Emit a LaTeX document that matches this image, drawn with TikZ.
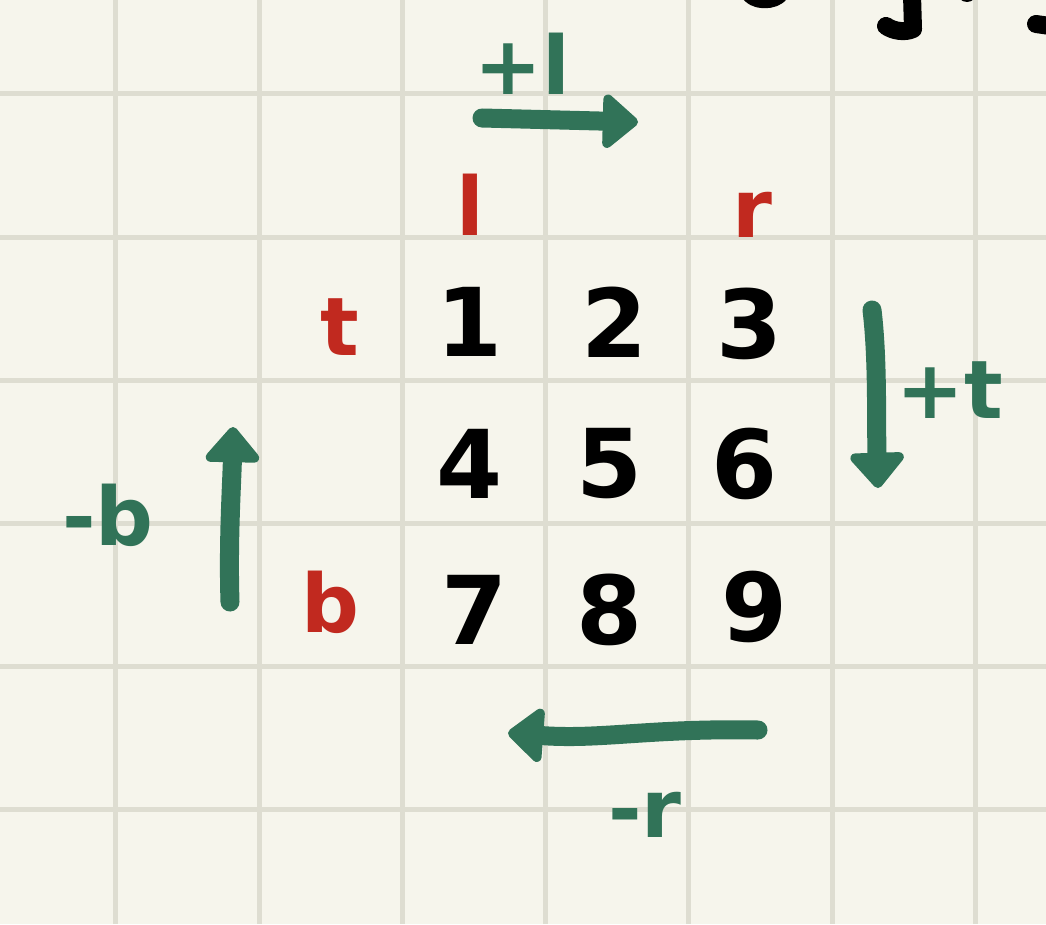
\documentclass[tikz,border=0pt]{standalone}
\usepackage{fontspec}
\setmainfont{DejaVu Sans}
\usetikzlibrary{arrows.meta}
\definecolor{paper}{HTML}{F6F5EC}
\definecolor{gridc}{HTML}{DEDDD1}
\definecolor{grn}{HTML}{317358}
\definecolor{rd}{HTML}{C1291F}
\tikzset{
  px/.style={x=0.01cm,y=-0.01cm},
  digit/.style={font=\fontsize{27}{30}\selectfont\bfseries, text=black, inner sep=0pt},
  redlab/.style={font=\fontsize{23}{26}\selectfont\bfseries, text=rd, inner sep=0pt},
  grnlab/.style={font=\fontsize{23}{26}\selectfont\bfseries, text=grn, inner sep=0pt},
  garrow/.style={draw=grn, line width=0.19cm, line cap=round, -{Triangle[width=0.62cm,length=0.38cm,round]}},
  ink/.style={draw=black, line width=0.18cm, line cap=round, line join=round},
  gridline/.style={draw=gridc, line width=0.05cm}
}
\begin{document}
\begin{tikzpicture}[px]
\fill[paper] (0,0) rectangle (1046,924);
\useasboundingbox (0,0) rectangle (1046,924);
% grid
\foreach \x in {115,259,402,545,688,832,975} \draw[gridline] (\x,0) -- (\x,924);
\foreach \y in {93,237,380,523,666,809} \draw[gridline] (0,\y) -- (1046,\y);
% cut-off writing at top right
\begin{scope}
\clip (0,0) rectangle (1046,924);
\draw[ink] (748,-10) .. controls (752,2) and (775,2) .. (781,-8);
\draw[ink] (912,-5) -- (913,29) .. controls (905,33) and (893,31) .. (886,26);
\fill[black] (967,-8) circle (10);
\draw[ink] (1036,24) -- (1050,26);
\end{scope}
% digits
\node[digit] (n1) at (470,322) {1};
\node[digit] (n2) at (615,322) {2};
\node[digit] (n3) at (750,324) {3};
\node[digit] (n4) at (470,464) {4};
\node[digit] (n5) at (610,464) {5};
\node[digit] (n6) at (745,464) {6};
\node[digit] (n7) at (475,610) {7};
\node[digit] (n8) at (610,610) {8};
\node[digit] (n9) at (755,607) {9};
% red labels
\node[redlab] (rl) at (470,205) {l};
\node[redlab] (rr) at (752,215) {r};
\node[redlab] (rt) at (340,327) {t};
\node[redlab] (rb) at (330,602) {b};
% green arrows
\coordinate (ta) at (482,118);
\coordinate (tb) at (638,122);
\draw[garrow] (ta) -- (tb);
\coordinate (ra) at (872,310);
\coordinate (rb2) at (878,488);
\draw[garrow] (ra) .. controls (878,360) and (876,420) .. (rb2);
\coordinate (la) at (230,602);
\coordinate (lb) at (233,427);
\draw[garrow] (la) .. controls (228,540) and (232,480) .. (lb);
\coordinate (ba) at (758,730);
\coordinate (bb) at (508,733);
\draw[garrow] (ba) .. controls (650,728) and (600,740) .. (bb);
% green labels
\node[grnlab] (gtop) at (522,64) {+l};
\node[grnlab] (gright) at (950,390) {+t};
\node[grnlab] (gleft) at (108,515) {-b};
\node[grnlab] (gbot) at (645,815) {-r};
\end{tikzpicture}
\end{document}
